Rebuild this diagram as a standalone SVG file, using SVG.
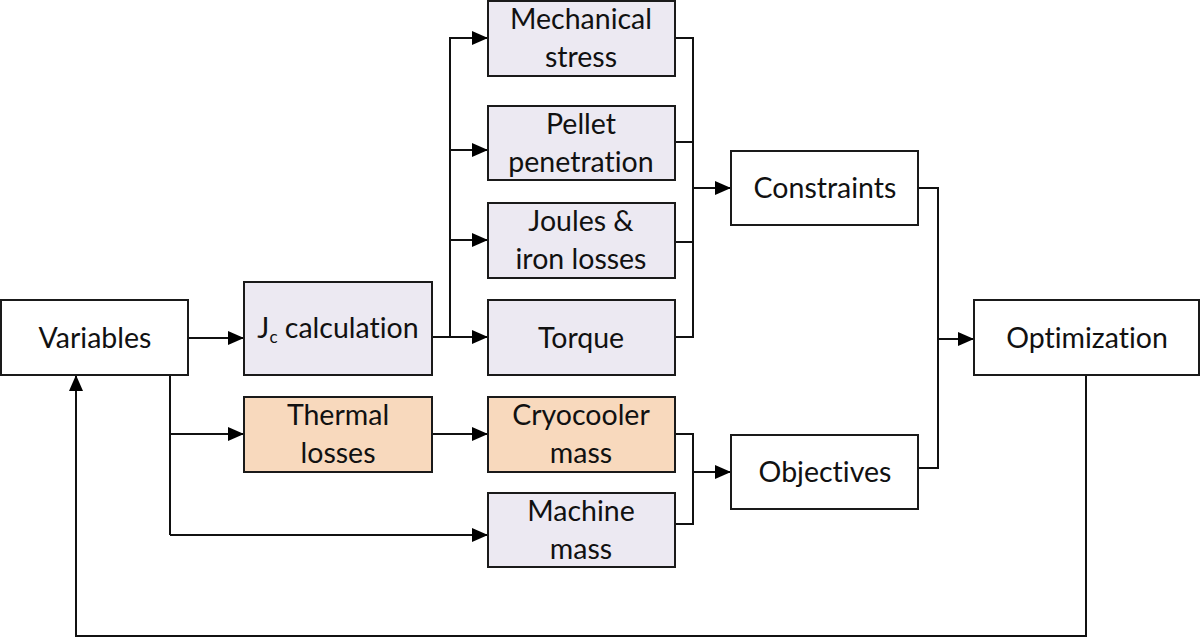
<svg xmlns="http://www.w3.org/2000/svg" width="1200" height="638" viewBox="0 0 1200 638">
<defs>
<marker id="ah" markerWidth="16" markerHeight="14" refX="15" refY="7" orient="auto" markerUnits="userSpaceOnUse" viewBox="0 0 16 14">
<path d="M0,0 L16,7 L0,14 z" fill="#000"/>
</marker>
<style>
rect{stroke:#1a1a1a;stroke-width:2}
.w{fill:#fff}
.p{fill:#ECE9F2}
.o{fill:#F8D9BD}
text{font-family:Lato,"Liberation Sans",sans-serif;font-size:28.5px;fill:#111;text-anchor:middle;font-variant-ligatures:none}
.c path{fill:none;stroke:#111;stroke-width:2}
.a{marker-end:url(#ah)}
</style>
</defs>
<rect width="1200" height="638" fill="#fff" style="stroke:none"/>
<g class="c" id="connectors">
<path class="a" d="M188,338 H243"/>
<path d="M432,337 H450"/>
<path class="a" d="M450,337 V38 H487"/>
<path class="a" d="M450,150 H487"/>
<path class="a" d="M450,240 H487"/>
<path class="a" d="M450,337 H487"/>
<path d="M675,38 H693 V337 H675"/>
<path d="M675,142 H693"/>
<path d="M675,242 H693"/>
<path class="a" d="M693,188 H730"/>
<path d="M170,375 V535"/>
<path class="a" d="M170,434 H243"/>
<path class="a" d="M170,535 H487"/>
<path class="a" d="M432,434 H487"/>
<path d="M675,434 H693 V524 H675"/>
<path class="a" d="M693,472 H730"/>
<path d="M918,188 H938 V468 H918"/>
<path class="a" d="M938,339 H973"/>
<path class="a" d="M1086,375 V636 H76 V376"/>
</g>
<g id="variables"><rect class="w" x="1" y="300" width="187" height="75"/><text x="95" y="348">Variables</text></g>
<g id="jc"><rect class="p" x="244" y="282" width="188" height="93"/><text x="338" y="338">J<tspan font-size="17" dy="5">c</tspan><tspan dy="-5"> calculation</tspan></text></g>
<g id="mech"><rect class="p" x="488" y="1" width="187" height="75"/><text x="581" y="29">Mechanical</text><text x="581" y="67">stress</text></g>
<g id="pellet"><rect class="p" x="488" y="106" width="187" height="74"/><text x="581" y="134">Pellet</text><text x="581" y="172">penetration</text></g>
<g id="joules"><rect class="p" x="488" y="203" width="187" height="75"/><text x="581" y="231">Joules &amp;</text><text x="581" y="269">iron losses</text></g>
<g id="torque"><rect class="p" x="488" y="300" width="187" height="75"/><text x="581" y="348">Torque</text></g>
<g id="thermal"><rect class="o" x="244" y="397" width="188" height="75"/><text x="338" y="425">Thermal</text><text x="338" y="463">losses</text></g>
<g id="cryo"><rect class="o" x="488" y="397" width="187" height="75"/><text x="581" y="425">Cryocooler</text><text x="581" y="463">mass</text></g>
<g id="machine"><rect class="p" x="488" y="493" width="187" height="74"/><text x="581" y="521">Machine</text><text x="581" y="559">mass</text></g>
<g id="constraints"><rect class="w" x="731" y="151" width="187" height="74"/><text x="825" y="198">Constraints</text></g>
<g id="objectives"><rect class="w" x="731" y="435" width="187" height="74"/><text x="825" y="482">Objectives</text></g>
<g id="optimization"><rect class="w" x="974" y="300" width="225" height="75"/><text x="1087" y="348">Optimization</text></g>
</svg>
